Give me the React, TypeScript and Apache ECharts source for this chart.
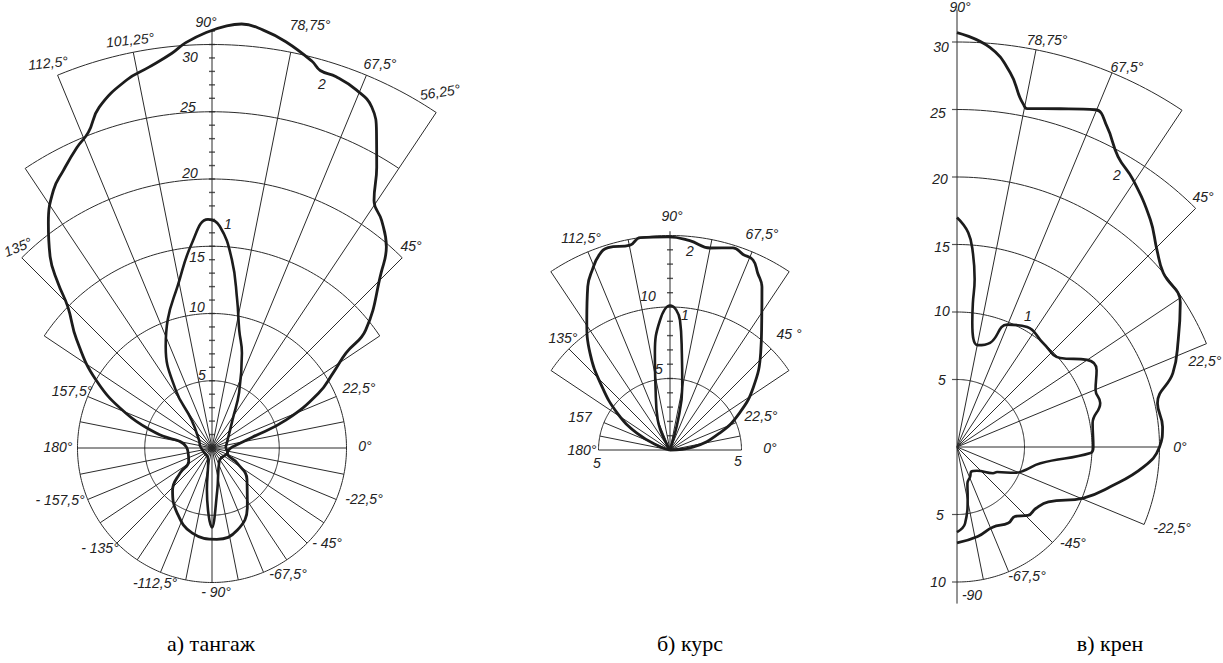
import React, { useEffect, useRef } from "react";
import * as echarts from "echarts";

// Each point is [angle in degrees, radial value]
type Pt = [number, number];

// а) тангаж
const pitchCurve1: Pt[] = [
  [0, 1.0], [27, 1.3], [54, 2.6], [64, 4.6], [72.5, 7.4], [77, 9.0], [80.4, 11.2], [84, 14.1],
  [88, 16.5], [91, 17.0], [95.6, 15.3], [102, 12.3], [109, 10.1], [114.5, 8.3], [122, 5.1],
  [126, 2.6], [150, 1.1], [170, 0.9], [200, 0.7], [-108, 0.9], [-97, 3.1], [-90, 5.9],
  [-83, 3.2], [-60, 1.1], [-14, 1.2], [0, 1.0],
];
const pitchCurve2: Pt[] = [
  [3, 1.5], [15, 3.1], [20.7, 5.9], [27.2, 8.9], [31.8, 10.6], [35.3, 12.2], [37.5, 14.4],
  [46, 18.1], [49.1, 19.8], [53.3, 21.1], [56.8, 22.0], [59.6, 24.2], [62.4, 26.4], [64.9, 28.0],
  [68, 28.7], [71.5, 29.1], [74, 29.2], [75.5, 29.7], [79.7, 30.7], [83, 31.3], [86, 31.6],
  [88, 31.4], [90.8, 30.9], [93.7, 30.2], [95.8, 29.5], [99.4, 28.7], [103, 28.1], [108.3, 26.7],
  [111.4, 25.2], [114.2, 24.5], [118.2, 23.4], [121.6, 22.5], [126, 20.7], [130.3, 18.6],
  [133, 16.8], [135.6, 15.0], [141.3, 12.9], [149.6, 10.0], [158, 6.9], [165, 4.3], [178, 1.9],
  [-150, 2.0], [-142, 3.0], [-133, 4.3], [-118, 5.5], [-103, 6.5], [-87, 6.8], [-73, 6.4],
  [-59, 5.1], [-42, 3.5], [-31, 2.2], [-18, 1.2], [3, 1.5],
];

// б) курс
const courseCurve1: Pt[] = [
  [0, 0], [75, 2.2], [79, 4.5], [83, 6.8], [85.6, 9.1], [90, 10.1], [94.4, 9.1], [98.8, 6.9],
  [103, 4.5], [112, 2.3], [180, 0],
];
const courseCurve2: Pt[] = [
  [0, 0], [7, 1.6], [19, 3.7], [28, 5.5], [37, 7.3], [47, 9.3], [54.7, 11.1], [60.6, 13.1],
  [63.6, 13.8], [66.4, 14.5], [69.5, 14.6], [72.7, 14.8], [78.8, 14.4], [84.6, 14.7], [90.5, 14.9],
  [98, 15.0], [101, 14.6], [107, 14.8], [110, 14.5], [113.4, 13.7], [116.7, 12.8], [122.6, 10.8],
  [129.5, 8.8], [137, 6.5], [145, 4.5], [153, 2.6], [163, 0.7], [180, 0],
];

// в) крен
const rollCurve1: Pt[] = [
  [90, 17.0], [87, 15.9], [85.3, 14.4], [84, 12.5], [83.7, 10.7], [83, 9.3], [78.4, 7.7],
  [72.4, 8.1], [67.7, 9.8], [59.7, 10.3], [50.4, 10.0], [40.8, 10.1], [33.8, 11.6], [28.8, 11.8],
  [22.4, 11.1], [17.1, 11.1], [10, 10.2], [0, 10.1], [-2.6, 9.9], [-11, 6.3], [-20, 5.2],
  [-24, 4.7], [-32, 3.5], [-36, 3.3], [-50, 2.3], [-60, 2.1], [-66, 2.4], [-74, 2.8], [-78, 3.8],
  [-84, 5.7], [-90, 6.3],
];
const rollCurve2: Pt[] = [
  [90, 30.7], [85.3, 29.7], [81.9, 28.0], [79.8, 26.3], [79.1, 25.9], [78.3, 25.6], [73, 26.2],
  [67.7, 27.0], [64.9, 26.2], [61, 24.6], [56.6, 23.7], [49.6, 22.1], [44.6, 20.8], [40.2, 20.0],
  [32.9, 19.7], [25.8, 18.2], [18.9, 16.9], [12.3, 15.2], [5.6, 15.3], [0, 15.0], [-6.1, 13.9],
  [-14.7, 11.7], [-22, 10.1], [-31, 7.9], [-38, 7.4], [-44, 7.3], [-50, 6.7], [-56, 6.8],
  [-66, 6.5], [-77, 6.8], [-90, 7.1],
];

// Grid rings: [radius, from angle, to angle]
const pitchRings: [number, number, number][] = [
  [5, -180, 180], [10, -180, 180], [15, 33.75, 146.25], [20, 45, 135], [25, 56.25, 123.75], [30, 56.25, 112.5],
];
const courseRings: [number, number, number][] = [
  [5, 0, 180], [10, 33.75, 146.25], [15, 56.25, 123.75],
];
const rollRings: [number, number, number][] = [
  [5, -90, 90], [10, -90, 90], [15, -22.5, 90], [20, 22.5, 90], [25, 45, 90], [30, 56.25, 90],
];

// Grid spokes: [angle, reach]
const pitchSpokes: Pt[] = [
  [0, 10], [11.25, 10], [22.5, 10], [33.75, 15], [45, 20], [56.25, 30], [67.5, 30], [78.75, 30],
  [90, 31], [101.25, 30], [112.5, 30], [123.75, 25], [135, 20], [146.25, 15], [157.5, 10],
  [168.75, 10], [180, 10], [-168.75, 10], [-157.5, 10], [-146.25, 10], [-135, 10], [-123.75, 10],
  [-112.5, 10], [-101.25, 10], [-90, 10], [-78.75, 10], [-67.5, 10], [-56.25, 10], [-45, 10],
  [-33.75, 10], [-22.5, 10], [-11.25, 10],
];
const courseSpokes: Pt[] = [
  [0, 5], [11.25, 5], [22.5, 5], [33.75, 10], [45, 10], [56.25, 15], [67.5, 15], [78.75, 15],
  [90, 15.3], [101.25, 15], [112.5, 15], [123.75, 15], [135, 10], [146.25, 10], [157.5, 5],
  [168.75, 5], [180, 5],
];
const rollSpokes: Pt[] = [
  [90, 32.4], [78.75, 30], [67.5, 30], [56.25, 30], [45, 25], [33.75, 20], [22.5, 20], [0, 15],
  [-22.5, 15], [-45, 10], [-67.5, 10], [-78.75, 10], [-90, 11.6],
];

// Tick positions along the vertical axes
const pitchTicks = [1, 2, 3, 4, 5, 6, 7, 8, 9, 10, 11, 12, 13, 14, 15, 16, 17, 18, 19, 20, 21, 22, 23, 24, 25, 26, 27, 28, 29, 30, 31];
const courseTicks = [1, 2, 3, 4, 5, 6, 7, 8, 9, 10, 11, 12, 13, 14];
const rollTicksUp = [5, 10, 15, 20, 25, 30];
const rollTicksDown = [5, 10];

// Text labels: [text, x, y, rotation]
const HAND = "italic 14px 'Liberation Sans', 'DejaVu Sans', sans-serif";
const pitchLabels: [string, number, number, number][] = [
  ["90°", 206, 22, 0], ["78,75°", 310, 25, 0], ["101,25°", 130, 40, 0.1], ["112,5°", 48, 63, 0.1],
  ["67,5°", 380, 64, 0], ["56,25°", 440, 92, 0.15], ["2", 322, 84, 0], ["1", 228, 224, 0],
  ["135°", 18, 247, 0.4], ["45°", 411, 246, 0], ["30", 190, 57, 0], ["25", 188, 107, 0],
  ["20", 190, 173, 0], ["15", 197, 257, 0], ["10", 197, 307, 0], ["5", 202, 375, 0],
  ["157,5°", 72, 391, 0], ["22,5°", 359, 388, 0], ["180°", 58, 447, 0], ["0°", 365, 446, 0],
  ["- 157,5°", 60, 500, 0], ["-22,5°", 364, 499, 0], ["- 135°", 100, 548, 0], ["- 45°", 327, 543, 0],
  ["-112,5°", 155, 583, 0], ["-67,5°", 288, 574, 0], ["- 90°", 216, 592, 0],
];
const courseLabels: [string, number, number, number][] = [
  ["90°", 672, 216, 0], ["112,5°", 581, 238, 0], ["67,5°", 762, 234, 0], ["2", 690, 251, 0],
  ["10", 648, 296, 0], ["1", 685, 315, 0], ["135°", 563, 338, 0], ["45 °", 789, 334, 0],
  ["5", 659, 369, 0], ["157", 580, 417, 0], ["22,5°", 761, 416, 0], ["180°", 582, 450, 0],
  ["5", 597, 463, 0], ["5", 738, 461, 0], ["0°", 770, 448, 0],
];
const rollLabels: [string, number, number, number][] = [
  ["90°", 960, 7, 0], ["30", 941, 47, 0], ["78,75°", 1047, 40, 0], ["67,5°", 1127, 67, 0],
  ["25", 938, 113, 0], ["2", 1117, 175, 0], ["20", 940, 179, 0], ["45°", 1203, 197, 0],
  ["15", 942, 247, 0], ["10", 942, 311, 0], ["1", 1028, 316, 0], ["22,5°", 1205, 361, 0],
  ["5", 942, 380, 0], ["0°", 1180, 447, 0], ["5", 940, 515, 0], ["-22,5°", 1172, 528, 0],
  ["-45°", 1073, 543, 0], ["-67,5°", 1027, 576, 0], ["10", 938, 582, 0], ["-90", 972, 595, 0],
];
const captions: [string, number, number][] = [
  ["а) тангаж", 211, 643], ["б) курс", 690, 643], ["в) крен", 1110, 643],
];

const GRID = "#2b2b2b";
const INK = "#1c1c1c";

const norm = (a: number) => ((a % 360) + 360) % 360;
const toPolar = (pts: Pt[]) => pts.map(([a, v]) => [v, norm(a)]);

function ringData(r: number, a0: number, a1: number) {
  const out: number[][] = [];
  for (let a = a0; a < a1; a += 1) out.push([r, norm(a)]);
  out.push([r, norm(a1)]);
  return out;
}

function gridSeries(polarIndex: number, rings: [number, number, number][], spokes: Pt[]) {
  const base = {
    type: "line",
    coordinateSystem: "polar",
    polarIndex,
    symbol: "none",
    silent: true,
    clip: false,
    lineStyle: { color: GRID, width: 1 },
    z: 1,
  };
  const out: any[] = [];
  rings.forEach(([r, a0, a1]) => out.push({ ...base, data: ringData(r, a0, a1) }));
  spokes.forEach(([a, reach]) => out.push({ ...base, data: [[0, norm(a)], [reach, norm(a)]] }));
  return out;
}

function curveSeries(polarIndex: number, pts: Pt[], width = 2.6) {
  return {
    type: "line",
    coordinateSystem: "polar",
    polarIndex,
    symbol: "none",
    smooth: 0.45,
    silent: true,
    clip: false,
    lineStyle: { color: INK, width },
    data: toPolar(pts),
    z: 3,
  };
}

function tickSeries(polarIndex: number, values: number[], angle: number, size: number[], offset: number[]) {
  return {
    type: "scatter",
    coordinateSystem: "polar",
    polarIndex,
    symbol: "rect",
    symbolSize: size,
    symbolOffset: offset,
    silent: true,
    clip: false,
    itemStyle: { color: GRID },
    data: values.map((v) => [v, angle]),
    z: 2,
  };
}

function textItems(list: [string, number, number, number][]) {
  return list.map(([text, x, y, rotation]) => ({
    type: "text",
    x,
    y,
    rotation,
    silent: true,
    style: { text, font: HAND, fill: "#222", align: "center", verticalAlign: "middle" },
  }));
}

export default function App() {
  const ref = useRef<HTMLDivElement>(null);

  useEffect(() => {
    document.body.style.margin = "0";
    if (!ref.current) return;
    const chart = echarts.init(ref.current, null, { renderer: "svg" });

    const polarDefs = [
      { center: [212, 448], k: 13.45 },
      { center: [670, 450], k: 14.3 },
      { center: [957, 447], k: 13.5 },
    ];
    const MAXR = 40;

    chart.setOption({
      animation: false,
      backgroundColor: "#ffffff",
      polar: polarDefs.map((p) => ({ center: p.center, radius: p.k * MAXR })),
      angleAxis: polarDefs.map((_, i) => ({
        polarIndex: i,
        type: "value",
        min: 0,
        max: 360,
        startAngle: 0,
        clockwise: false,
        show: false,
      })),
      radiusAxis: polarDefs.map((_, i) => ({
        polarIndex: i,
        type: "value",
        min: 0,
        max: MAXR,
        show: false,
      })),
      series: [
        ...gridSeries(0, pitchRings, pitchSpokes),
        ...gridSeries(1, courseRings, courseSpokes),
        ...gridSeries(2, rollRings, rollSpokes),
        tickSeries(0, pitchTicks, 90, [6, 1.4], [0, 0]),
        tickSeries(1, courseTicks, 90, [6, 1.4], [0, 0]),
        tickSeries(2, rollTicksUp, 90, [5, 1.2], [-2.5, 0]),
        tickSeries(2, rollTicksDown, 270, [5, 1.2], [-2.5, 0]),
        curveSeries(0, pitchCurve1),
        curveSeries(0, pitchCurve2, 2.8),
        curveSeries(1, courseCurve1),
        curveSeries(1, courseCurve2, 2.8),
        curveSeries(2, rollCurve1),
        curveSeries(2, rollCurve2, 2.8),
      ],
      graphic: [
        ...textItems(pitchLabels),
        ...textItems(courseLabels),
        ...textItems(rollLabels),
        ...captions.map(([text, x, y]) => ({
          type: "text",
          x,
          y,
          silent: true,
          style: {
            text,
            font: "22px 'Liberation Serif', 'Times New Roman', serif",
            fill: "#000",
            align: "center",
            verticalAlign: "middle",
          },
        })),
      ],
    });

    return () => chart.dispose();
  }, []);

  return <div ref={ref} style={{ width: 1223, height: 663 }} />;
}
